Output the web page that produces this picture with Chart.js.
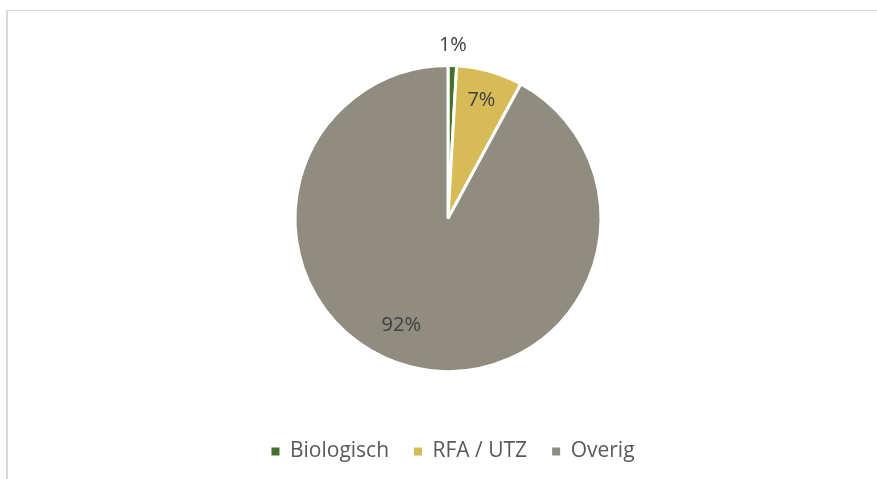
<!DOCTYPE html>
<html>
<head>
<meta charset="utf-8">
<script src="https://cdn.jsdelivr.net/npm/chart.js"></script>
<style>
  html, body { margin: 0; padding: 0; background: #ffffff; overflow: hidden; }
  #frame {
    position: absolute; left: 6px; top: 10px; width: 900px; height: 500px;
    border-top: 1px solid #d9d9d9; border-left: 2px solid #d9d9d9;
  }
  #wrap { position: absolute; left: 0; top: 0; width: 877px; height: 479px; }
</style>
</head>
<body>
<div id="frame"></div>
<div id="wrap"><canvas id="chart" width="877" height="479"></canvas></div>
<script>
// data
const categories = ["Biologisch", "RFA / UTZ", "Overig"];
const shares = [0.9, 7.0, 92.1];
const sliceColors = ["#44722b", "#d6bb57", "#918c80"];

// where each percent label sits: fraction of radius, extra angle (deg)
const labelPlacement = [
    { f: 1.13, da: 0 },
    { f: 0.80, da: 0 },
    { f: 0.76, da: 9.5 },
];

const pieLabels = {
    id: "pieLabels",
    afterDatasetsDraw(chart) {
        const ctx = chart.ctx;
        const meta = chart.getDatasetMeta(0);
        const total = shares.reduce((a, b) => a + b, 0);
        ctx.save();
        ctx.font = "20px 'Open Sans'";
        ctx.fillStyle = "#404040";
        ctx.textAlign = "center";
        ctx.textBaseline = "middle";
        meta.data.forEach((arc, i) => {
            const p = arc.getProps(["x", "y", "startAngle", "endAngle", "outerRadius"], true);
            const mid = (p.startAngle + p.endAngle) / 2 + labelPlacement[i].da * Math.PI / 180;
            const r = p.outerRadius * labelPlacement[i].f;
            const txt = Math.round(shares[i] / total * 100) + "%";
            ctx.fillText(txt, p.x + Math.cos(mid) * r, p.y + Math.sin(mid) * r);
        });
        ctx.restore();
    }
};

// legend in the original sits a few px right of the pie centre
const nudgeLegend = {
    id: "nudgeLegend",
    afterLayout(chart) {
        chart.legend.left += 5;
        chart.legend.right += 5;
    }
};

new Chart(document.getElementById("chart"), {
    type: "pie",
    data: {
        labels: categories,
        datasets: [{
            data: shares,
            backgroundColor: sliceColors,
            borderColor: "#ffffff",
            borderWidth: 3,
        }],
    },
    plugins: [pieLabels, nudgeLegend],
    options: {
        responsive: false,
        animation: false,
        layout: {
            padding: { top: 64, bottom: 7, left: 19, right: 0 }
        },
        plugins: {
            tooltip: { enabled: false },
            legend: {
                position: "bottom",
                // empty title only pushes the legend row down
                title: {
                    display: true,
                    text: "",
                    font: { size: 10, lineHeight: 1 },
                    padding: { top: 15, bottom: 18 }
                },
                labels: {
                    boxWidth: 8,
                    boxHeight: 8,
                    padding: 25,
                    color: "#595959",
                    font: { size: 21, family: "'Open Sans'" },
                    generateLabels(chart) {
                        return chart.data.labels.map((text, i) => ({
                            text,
                            fillStyle: sliceColors[i],
                            strokeStyle: sliceColors[i],
                            lineWidth: 0,
                            fontColor: "#595959",
                            hidden: false,
                            index: i,
                        }));
                    }
                }
            }
        }
    }
});
</script>
</body>
</html>
